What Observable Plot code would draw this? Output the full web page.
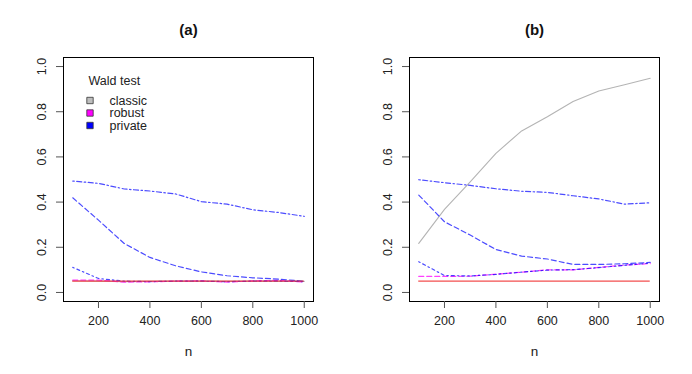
<!DOCTYPE html>
<html><head><meta charset="utf-8">
<script src="https://cdn.jsdelivr.net/npm/d3@7"></script>
<script src="https://cdn.jsdelivr.net/npm/@observablehq/plot@0.6"></script>
<style>
html,body{margin:0;padding:0;background:#fff;}
#wrap{display:flex;width:692px;height:374px;}
</style></head><body><div id="wrap"></div>
<script>
// ---- data ----
const n = [100, 200, 300, 400, 500, 600, 700, 800, 900, 1000];
const xTicks = [200, 400, 600, 800, 1000];
const yTicks = [0, 0.2, 0.4, 0.6, 0.8, 1.0];
const nominal = 0.05;

// panel (a)
const classicA  = [0.052, 0.050, 0.048, 0.049, 0.050, 0.051, 0.049, 0.050, 0.051, 0.049];
const robustA   = [0.055, 0.055, 0.046, 0.047, 0.050, 0.051, 0.046, 0.051, 0.054, 0.046];
const privateA1 = [0.493, 0.483, 0.458, 0.449, 0.436, 0.402, 0.391, 0.366, 0.354, 0.337];
const privateA2 = [0.419, 0.320, 0.217, 0.155, 0.118, 0.091, 0.074, 0.065, 0.059, 0.050];
const privateA3 = [0.111, 0.062, 0.050, 0.048, 0.050, 0.050, 0.048, 0.050, 0.050, 0.048];

// panel (b)
const classicB  = [0.217, 0.368, 0.490, 0.616, 0.715, 0.778, 0.845, 0.892, 0.919, 0.948];
const robustB   = [0.071, 0.071, 0.072, 0.081, 0.090, 0.100, 0.100, 0.111, 0.121, 0.128];
const privateB1 = [0.499, 0.486, 0.474, 0.459, 0.448, 0.443, 0.428, 0.414, 0.391, 0.397];
const privateB2 = [0.431, 0.313, 0.254, 0.190, 0.161, 0.148, 0.124, 0.124, 0.127, 0.133];
const privateB3 = [0.136, 0.075, 0.073, 0.080, 0.090, 0.099, 0.101, 0.110, 0.120, 0.130];

const legendTitle = "Wald test";
const legendLabels = ["classic", "robust", "private"];
const legendColors = ["#bebebe", "#ff00ff", "#0000ff"];

// ---- styles ----
const FONT = "'Liberation Sans', Arial, Helvetica, sans-serif";
const sGray = {stroke: "#b4b4b4", strokeWidth: 1.1};
const sMag = {stroke: "#ff00ff", strokeWidth: 1.2, strokeOpacity: 0.75, strokeDasharray: "5,3"};
const sBlueDash = {stroke: "#0000ff", strokeWidth: 1.2, strokeOpacity: 0.7, strokeDasharray: "5,3"};
const sBlueDotDash = {stroke: "#0000ff", strokeWidth: 1.2, strokeOpacity: 0.7, strokeDasharray: "1.5,2.5,5,2.5"};
const sBlueTwoDash = {stroke: "#0000ff", strokeWidth: 1.2, strokeOpacity: 0.7, strokeDasharray: "1.5,3,3,3"};

function rows(vals) { return n.map((v, i) => ({n: v, p: vals[i]})); }

function panel(title, series, legend) {
  const marks = [
    Plot.frame({stroke: "black", strokeWidth: 1}),
    Plot.axisX({ticks: xTicks, tickSize: 7, tickPadding: 8, tickFormat: d => String(d), label: null, fontSize: 12.5, stroke: "#555"}),
    Plot.axisY({ticks: yTicks, tickSize: 7, fill: "none", label: null, stroke: "#555"}),
    Plot.text(yTicks, {y: d => d, text: d => d.toFixed(1), frameAnchor: "left", dx: -21.5,
      rotate: -90, textAnchor: "middle", lineAnchor: "middle", fontSize: 12.5, fill: "#222"}),
    Plot.text(["n"], {frameAnchor: "bottom", dy: 50, lineAnchor: "middle", fontSize: 13.5, fill: "#222"}),
    Plot.text([title], {frameAnchor: "top", dy: -27, lineAnchor: "middle", fontSize: 15, fontWeight: "bold", fill: "#111"})
  ];
  for (const [vals, style] of series) {
    marks.push(Plot.line(rows(vals), {x: "n", y: "p", ...style}));
  }
  marks.push(Plot.ruleY([nominal], {x1: n[0], x2: n[n.length - 1], stroke: "#f03030", strokeWidth: 1.2, strokeOpacity: 0.85}));
  if (legend) {
    marks.push(Plot.text([legendTitle], {frameAnchor: "top-left", dx: 25, dy: 23.5, lineAnchor: "middle", fontSize: 12.5, fill: "#222"}));
    legendLabels.forEach((lab, i) => {
      marks.push(Plot.dot([lab], {frameAnchor: "top-left", dx: 26.5, dy: 43 + i * 12.5, symbol: "square", r: 3.6,
        fill: legendColors[i], stroke: "#333", strokeWidth: 0.8}));
      marks.push(Plot.text([lab], {frameAnchor: "top-left", dx: 46, dy: 43 + i * 12.5, lineAnchor: "middle", fontSize: 12.5, fill: "#222"}));
    });
  }
  return Plot.plot({
    width: 346, height: 374,
    marginLeft: 63, marginRight: 33, marginTop: 57, marginBottom: 73,
    x: {domain: [64, 1036]},
    y: {domain: [-0.04, 1.04]},
    style: {fontFamily: FONT, fontSize: "12.5px", background: "white", color: "#222"},
    marks
  });
}

const wrap = document.getElementById("wrap");
wrap.appendChild(panel("(a)", [
  [classicA, sGray], [robustA, sMag], [privateA1, sBlueDotDash], [privateA2, sBlueDash], [privateA3, sBlueTwoDash]
], true));
wrap.appendChild(panel("(b)", [
  [classicB, sGray], [robustB, sMag], [privateB1, sBlueDotDash], [privateB2, sBlueDash], [privateB3, sBlueTwoDash]
], false));
</script></body></html>
